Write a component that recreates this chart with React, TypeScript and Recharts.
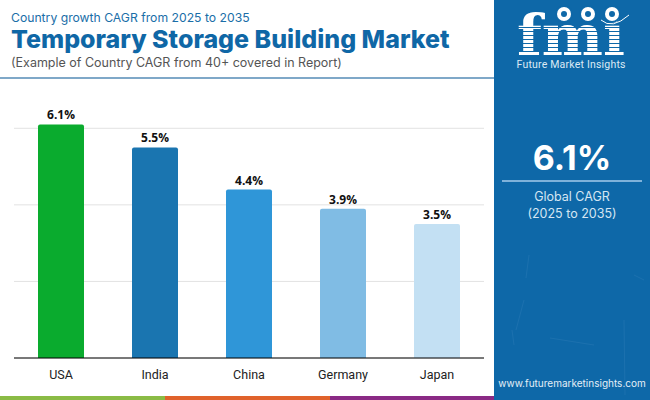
import { BarChart, Bar, XAxis, YAxis, CartesianGrid, Cell, LabelList } from "recharts";

const COUNTRIES = ["USA", "India", "China", "Germany", "Japan"];
const CAGR = [6.1, 5.5, 4.4, 3.9, 3.5];
const BAR_COLORS = ["#0AAB2E", "#1A75B0", "#2F96D8", "#80BCE4", "#C3E0F3"];
const Y_TICKS = [0, 2, 4, 6];
const STRIP_COLORS = ["#8ABB45", "#E0622B", "#8A2A85"];
const LOGO_STRIPES = [27, 31, 35, 39, 43, 47, 51];
const LOGO_CIRCLES = [70, 94, 118];
// faint scratches on the side panel background
const SCRATCHES = ["M35 255 L32 278", "M18 330 L20 345", "M130 320 L131 395", "M56 338 L100 345", "M140 275 L150 280", "M30 300 L22 330"];

const data = COUNTRIES.map((country, i) => ({ country, cagr: CAGR[i] }));

const SIDE = "#0E68A8";
const POPPINS = "Inter, 'Open Sans', sans-serif";

function text(left: number, top: number, size: number, color: string, weight = 400) {
  return {
    position: "absolute" as const,
    left,
    top,
    fontSize: size,
    color,
    fontWeight: weight,
    fontFamily: POPPINS,
    lineHeight: 1,
    whiteSpace: "nowrap" as const,
  };
}

function Logo() {
  return (
    <svg width={156} height={400} style={{ position: "absolute", left: 494, top: 0 }}>
      {SCRATCHES.map((d) => (
        <path key={d} d={d} stroke="#3B86BC" strokeOpacity={0.3} fill="none" />
      ))}
      <text x={77} y={55} textAnchor="middle" fontFamily="'DejaVu Serif', 'Liberation Serif', serif" fontWeight={700} fontSize={56} fill="#fff" textLength={108} lengthAdjust="spacingAndGlyphs">
        fmi
      </text>
      {LOGO_STRIPES.map((y) => (
        <rect key={y} x={20} y={y} width={112} height={1} fill={SIDE} />
      ))}
      {LOGO_CIRCLES.map((cx) => (
        <g key={cx}>
          <circle cx={cx} cy={14} r={9} fill={SIDE} />
          <circle cx={cx} cy={14} r={7} fill="#fff" />
          <circle cx={cx} cy={14} r={3} fill={SIDE} />
        </g>
      ))}
      <path d="M107 20 Q118 30 135 15" stroke="#fff" fill="none" />
      <text x={77} y={68} textAnchor="middle" fontFamily="Roboto, sans-serif" fontSize={10.5} fill="#DCEAF5" textLength={109}>
        Future Market Insights
      </text>
    </svg>
  );
}

export default function App() {
  return (
    <div style={{ position: "absolute", left: 0, top: 0, width: 650, height: 400, background: "#fff", overflow: "hidden" }}>
      <div style={text(11, 12, 12.2, "#1A6EA8")}>Country growth CAGR from 2025 to 2035</div>
      <div style={text(11, 27, 25, "#0F67A6", 800)}>Temporary Storage Building Market</div>
      <div style={text(11, 57, 12.5, "#555555")}>(Example of Country CAGR from 40+ covered in Report)</div>
      <div style={{ position: "absolute", left: 0, top: 77, width: 494, height: 2, background: "#7FA8C8" }} />

      <div style={{ position: "absolute", left: 0, top: 90 }}>
        <BarChart
          width={494}
          height={300}
          data={data}
          margin={{ top: 0, right: 10, bottom: 2, left: 14 }}
        >
          <CartesianGrid vertical={false} stroke="#E2E2E2" syncWithTicks />
          <XAxis
            dataKey="country"
            interval={0}
            tickLine={false}
            axisLine={{ stroke: "#000", strokeWidth: 1 }}
            tick={{ fontSize: 12.5, fill: "#222", fontFamily: "Roboto, sans-serif" }}
            tickMargin={6}
          />
          <YAxis hide domain={[0, 7]} ticks={Y_TICKS} />
          <Bar dataKey="cagr" barSize={46} radius={[2, 2, 0, 0]} isAnimationActive={false}>
            {data.map((d, i) => (
              <Cell key={d.country} fill={BAR_COLORS[i]} />
            ))}
            <LabelList
              dataKey="cagr"
              position="top"
              offset={5}
              formatter={(v: number) => `${v}%`}
              style={{ fontSize: 12, fontWeight: 700, fill: "#111", fontFamily: "'Open Sans', sans-serif" }}
            />
          </Bar>
        </BarChart>
      </div>

      {STRIP_COLORS.map((c, i) => (
        <div key={c} style={{ position: "absolute", left: i * 165, top: 396, width: 165, height: 4, background: c }} />
      ))}

      <div style={{ position: "absolute", left: 494, top: 0, width: 156, height: 400, background: SIDE }} />
      <Logo />
      <div style={{ ...text(494, 141, 34, "#fff", 700), width: 156, textAlign: "center" }}>6.1%</div>
      <div style={{ position: "absolute", left: 502, top: 180, width: 140, height: 2, background: "#7FB2DA" }} />
      <div style={{ ...text(494, 191, 12.5, "#D5E6F3"), width: 156, textAlign: "center" }}>Global CAGR</div>
      <div style={{ ...text(494, 208, 12.5, "#D5E6F3"), width: 156, textAlign: "center" }}>(2025 to 2035)</div>
      <div style={{ ...text(494, 378, 10, "#E4EFF7"), width: 156, textAlign: "center" }}>www.futuremarketinsights.com</div>
    </div>
  );
}
